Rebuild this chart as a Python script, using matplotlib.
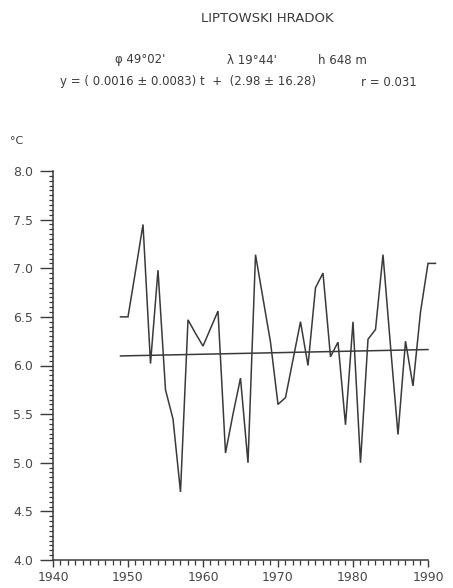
import matplotlib
matplotlib.use("Agg")
import matplotlib.pyplot as plt
from matplotlib.ticker import MultipleLocator, FormatStrFormatter
import numpy as np

# ---- data ----
years = list(range(1949, 1992))
temps = [6.50, 6.50, 6.97, 7.45, 6.02, 6.98, 5.75, 5.45, 4.70, 6.47,
         6.33, 6.20, 6.38, 6.56, 5.10, 5.50, 5.87, 5.00, 7.14, 6.69,
         6.24, 5.60, 5.67, 6.06, 6.45, 6.00, 6.80, 6.95, 6.09, 6.24,
         5.39, 6.45, 5.00, 6.27, 6.37, 7.14, 6.20, 5.29, 6.25, 5.79,
         6.55, 7.05, 7.05]
trend_slope = 0.0016
trend_intercept = 2.98
x_ticks = [1940, 1950, 1960, 1970, 1980, 1990]
y_ticks = [4.0, 4.5, 5.0, 5.5, 6.0, 6.5, 7.0, 7.5, 8.0]

title = "LIPTOWSKI HRADOK"
coords = ["\u03c6 49\u00b002'", "\u03bb 19\u00b044'", "h 648 m"]
equation = "y = ( 0.0016 \u00b1 0.0083) t  +  (2.98 \u00b1 16.28)"
corr = "r = 0.031"
unit = "\u00b0C"

ink = "#3a3a3a"
txt = "#3c3c3c"
plt.rcParams['font.family'] = ['DejaVu Sans']

fig = plt.figure(figsize=(4.53, 5.88), dpi=100)
ax = fig.add_axes([53/453, 1 - 560/588, (428-53)/453, (560-171)/588])

ax.plot(years, temps, color=ink, lw=1.1, clip_on=False, solid_joinstyle='miter')
tx = np.array([years[0], x_ticks[-1]])
ax.plot(tx, trend_slope * tx + trend_intercept, color=ink, lw=1.1, clip_on=False)

ax.set_xlim(x_ticks[0], x_ticks[-1])
ax.set_ylim(y_ticks[0], y_ticks[-1])
ax.set_xticks(x_ticks)
ax.set_yticks(y_ticks)
ax.xaxis.set_minor_locator(MultipleLocator(1))
ax.yaxis.set_minor_locator(MultipleLocator(0.05))
ax.yaxis.set_major_formatter(FormatStrFormatter('%.1f'))

for s in ['top', 'right']:
    ax.spines[s].set_visible(False)
for s in ['left', 'bottom']:
    ax.spines[s].set_color(ink)
    ax.spines[s].set_linewidth(1.1)

ax.tick_params(axis='y', which='major', direction='out', length=9.5, width=1.0,
               color=ink, labelsize=9, labelcolor='#484848', pad=5)
ax.tick_params(axis='y', which='minor', direction='out', length=3, width=0.9, color=ink)
ax.tick_params(axis='x', which='major', direction='out', length=5, width=1.0,
               color=ink, labelsize=9, labelcolor='#484848', pad=3)
ax.tick_params(axis='x', which='minor', direction='out', length=3.5, width=0.9, color=ink)

# header texts
fig.text(267/453, 1 - 19/588, title, ha='center', va='center', fontsize=9.5, color=txt)
for xp, t in zip([140, 252, 342], coords):
    fig.text(xp/453, 1 - 60/588, t, ha='center', va='center', fontsize=8.5, color=txt)
fig.text(60/453, 1 - 82/588, equation, ha='left', va='center', fontsize=8.5, color=txt)
fig.text(417/453, 1 - 82/588, corr, ha='right', va='center', fontsize=8.5, color=txt)
fig.text(17/453, 1 - 141/588, unit, ha='center', va='center', fontsize=8, color=txt)

fig.savefig("out.png", dpi=100)
